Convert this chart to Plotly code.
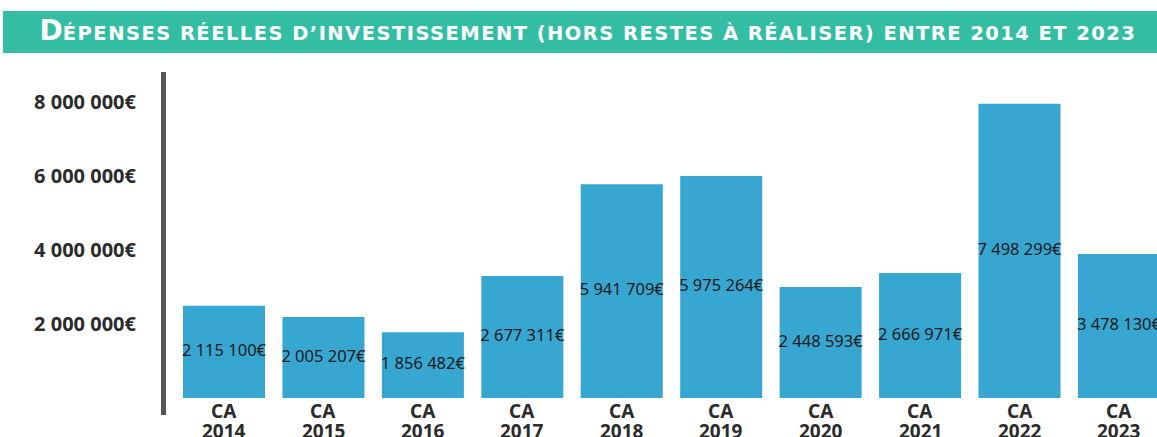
import plotly.graph_objects as go

years = [2014, 2015, 2016, 2017, 2018, 2019, 2020, 2021, 2022, 2023]
# bar heights as drawn in the picture (EUR)
bar_heights = [2.49e6, 2.19e6, 1.78e6, 3.30e6, 5.78e6, 6.00e6, 3.00e6, 3.38e6, 7.95e6, 3.89e6]
# values printed on the bars (EUR)
label_values = [2115100, 2005207, 1856482, 2677311, 5941709, 5975264, 2448593, 2666971, 7498299, 3478130]
y_tick_vals = [2e6, 4e6, 6e6, 8e6]
y_tick_text = ["2 000 000€", "4 000 000€", "6 000 000€", "8 000 000€"]
cat_prefix = "CA"
title_text = "Dépenses réelles d’investissement (hors restes à réaliser) entre 2014 et 2023"

W, H = 1157, 437
ML, MR, MT, MB = 163, 0, 84, 39
plot_h = H - MT - MB
px_per_unit = 37 / 1e6  # pixels per euro
y_top = plot_h / px_per_unit

bar_text = [f"{v:,}".replace(",", " ") + "€" for v in label_values]
xs = list(range(len(years)))

fig = go.Figure()
fig.add_trace(go.Bar(
    x=xs, y=bar_heights, width=0.825,
    marker=dict(color="#37A7D2", line=dict(width=0)),
    hoverinfo="skip", showlegend=False,
))
fig.add_trace(go.Scatter(
    x=xs, y=[h / 2 for h in bar_heights], mode="text",
    text=bar_text, textposition="middle center",
    textfont=dict(family="Noto Sans", size=16.5, color="#1a1a1a"),
    cliponaxis=False, hoverinfo="skip", showlegend=False,
))

def py_to_paper(py):
    return (H - MB - py) / plot_h

def px_to_paper(px):
    return (px - ML) / (W - ML - MR)

shapes = [
    dict(type="rect", xref="paper", yref="paper",
         x0=px_to_paper(3), x1=px_to_paper(1160), y0=py_to_paper(53), y1=py_to_paper(11),
         fillcolor="#33BEA4", line=dict(width=0), layer="below"),
    dict(type="line", xref="paper", yref="paper",
         x0=px_to_paper(163.5), x1=px_to_paper(163.5), y0=py_to_paper(72), y1=py_to_paper(415),
         line=dict(color="#555555", width=5)),
]

cat_font = dict(family="Noto Sans", size=19, color="#2b2b2b", weight="bold")
annotations = []
for x, yr in zip(xs, years):
    annotations.append(dict(x=x, xref="x", y=0, yref="paper", yanchor="middle", yshift=-13,
                            text=cat_prefix, showarrow=False, font=cat_font))
    annotations.append(dict(x=x, xref="x", y=0, yref="paper", yanchor="middle", yshift=-33,
                            text=str(yr), showarrow=False, font=cat_font))

# small-caps emulation: first letter big, rest uppercase smaller
t = title_text
title_html = (f"<span style='font-size:28px'>{t[0]}</span>"
              f"<span style='letter-spacing:1.45px'>{t[1:].upper()}</span>")

fig.update_layout(
    width=W, height=H,
    margin=dict(l=ML, r=MR, t=MT, b=MB, pad=0),
    paper_bgcolor="white", plot_bgcolor="white",
    shapes=shapes, annotations=annotations,
    title=dict(
        text=title_html, x=588 / W, xanchor="center", xref="container",
        y=1 - 33 / H, yanchor="middle", yref="container",
        font=dict(family="DejaVu Sans", size=19.5, color="white", weight="bold"),
    ),
    xaxis=dict(
        range=[(ML - 224) / 99.44, (W - 224) / 99.44],
        showticklabels=False,
        showgrid=False, zeroline=False, showline=False, ticks="",
    ),
    yaxis=dict(
        range=[0, y_top],
        tickmode="array", tickvals=y_tick_vals, ticktext=y_tick_text,
        tickfont=dict(family="Noto Sans", size=20, color="#2b2b2b", weight="bold"),
        showgrid=False, zeroline=False, showline=False,
        ticks="outside", ticklen=22, tickcolor="rgba(0,0,0,0)",
    ),
)

fig.write_html("out.html", config={"displayModeBar": False},
               post_script="document.body.style.margin='0';document.body.style.padding='0';")
